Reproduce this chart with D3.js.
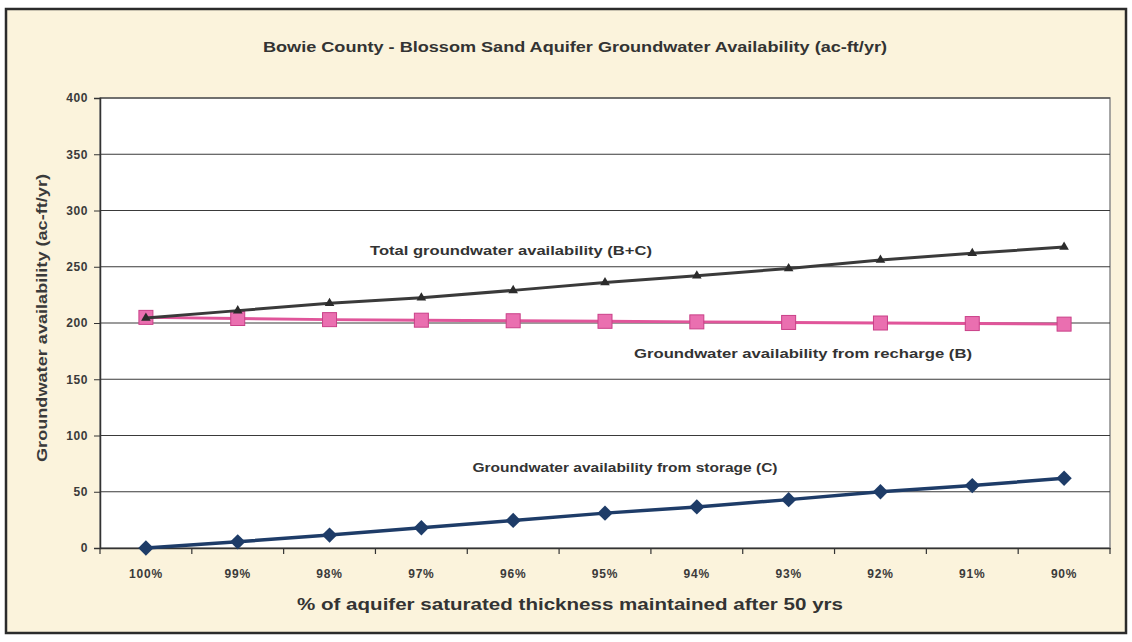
<!DOCTYPE html>
<html><head><meta charset="utf-8">
<script src="https://cdn.jsdelivr.net/npm/d3@7"></script>
<style>body{margin:0;background:#fff}svg{display:block}</style>
</head><body>
<svg id="c" width="1132" height="642"></svg>
<script>
const categories = ["100%","99%","98%","97%","96%","95%","94%","93%","92%","91%","90%"];
const totalVals = [204.5,211,217.5,222.5,229,236,242,248.5,256,262,267.5];
const rechargeVals = [205,204,203,202.5,202,201.5,201,200.5,200,199.5,199];
const storageVals = [0,5.5,11.5,18,24.5,31,36.5,43,50,55.5,62];
const yTicks = [0,50,100,150,200,250,300,350,400];

const svg = d3.select("#c");
const W=1132,H=642;
svg.append("rect").attr("width",W).attr("height",H).attr("fill","#fff");
svg.append("rect").attr("x",6).attr("y",9).attr("width",1120).attr("height",624)
  .attr("fill","#fbf3dc").attr("stroke","#2b2b2b").attr("stroke-width",2.5);

const m={l:100,r:1110,t:98,b:548};
const x=d3.scaleBand().domain(categories).range([m.l,m.r]);
const y=d3.scaleLinear().domain([0,400]).range([m.b,m.t]);

svg.append("rect").attr("x",m.l).attr("y",m.t).attr("width",m.r-m.l).attr("height",m.b-m.t)
  .attr("fill","#fff").attr("stroke","#8a8a8a").attr("stroke-width",1.5);

// gridlines
svg.append("g").selectAll("line").data(yTicks.filter(d=>d>0)).join("line")
  .attr("x1",m.l).attr("x2",m.r).attr("y1",d=>y(d)).attr("y2",d=>y(d))
  .attr("stroke","#3a3a3a").attr("stroke-width",1.2);

const font="Liberation Sans, Arial, sans-serif";
// y axis
const ya=svg.append("g").attr("transform",`translate(${m.l},0)`)
  .call(d3.axisLeft(y).tickValues(yTicks).tickSize(6).tickPadding(6));
ya.select(".domain").attr("stroke","#333").attr("stroke-width",1.5);
ya.selectAll(".tick line").attr("stroke","#333");
ya.selectAll("text").attr("font-family",font).attr("font-weight","bold")
  .attr("font-size",12).attr("letter-spacing",0.6).attr("fill","#3a3a3a");

// x axis
const xa=svg.append("g").attr("transform",`translate(0,${m.b})`)
  .call(d3.axisBottom(x).tickSize(0).tickPadding(21));
xa.select(".domain").attr("stroke","#333").attr("stroke-width",1.5);
xa.selectAll("text").attr("font-family",font).attr("font-weight","bold")
  .attr("font-size",12).attr("letter-spacing",0.8).attr("fill","#3a3a3a");
// tick marks at category boundaries
const bounds=categories.map(c=>x(c)).concat([m.r]);
svg.append("g").selectAll("line").data(bounds).join("line")
  .attr("x1",d=>d).attr("x2",d=>d).attr("y1",m.b).attr("y2",m.b+6)
  .attr("stroke","#333").attr("stroke-width",1.2);

const cx=c=>x(c)+x.bandwidth()/2;
function series(vals,color,width){
  const line=d3.line().x((d,i)=>cx(categories[i])).y(d=>y(d));
  svg.append("path").datum(vals).attr("d",line).attr("fill","none")
    .attr("stroke",color).attr("stroke-width",width);
}
series(rechargeVals,"#e0559a",3);
svg.append("g").selectAll("rect").data(rechargeVals).join("rect")
  .attr("x",(d,i)=>cx(categories[i])-7).attr("y",d=>y(d)-7).attr("width",14).attr("height",14)
  .attr("fill","#ea6fb0").attr("stroke","#c94088").attr("stroke-width",1);

series(totalVals,"#3a3a3a",3);
svg.append("g").selectAll("path").data(totalVals).join("path")
  .attr("d",d3.symbol().type(d3.symbolTriangle).size(40))
  .attr("transform",(d,i)=>`translate(${cx(categories[i])},${y(d)})`)
  .attr("fill","#2b2b2b");

series(storageVals,"#1e3c68",3.5);
svg.append("g").selectAll("path").data(storageVals).join("path")
  .attr("d",d3.symbol().type(d3.symbolDiamond2).size(150))
  .attr("transform",(d,i)=>`translate(${cx(categories[i])},${y(d)})`)
  .attr("fill","#1e3c68");

function label(t,xx,yy,size,len,col){
  svg.append("text").attr("x",xx).attr("y",yy).attr("text-anchor","middle")
    .attr("font-family",font).attr("font-weight","bold").attr("font-size",size)
    .attr("fill",col||"#333").attr("textLength",len).attr("lengthAdjust","spacingAndGlyphs").text(t);
}
label("Bowie County - Blossom Sand Aquifer Groundwater Availability (ac-ft/yr)",575,52,15,624);
label("Total groundwater availability (B+C)",511,255,13,282);
label("Groundwater availability from recharge (B)",803,358,13,338);
label("Groundwater availability from storage (C)",625,472,13,305);
label("% of aquifer saturated thickness maintained after 50 yrs",570,610,16,546);
svg.append("text").attr("transform","translate(47,318) rotate(-90)").attr("text-anchor","middle")
  .attr("font-family",font).attr("font-weight","bold").attr("font-size",15).attr("fill","#3a3a3a")
  .attr("textLength",288).attr("lengthAdjust","spacingAndGlyphs").text("Groundwater availability (ac-ft/yr)");
</script>
</body></html>
